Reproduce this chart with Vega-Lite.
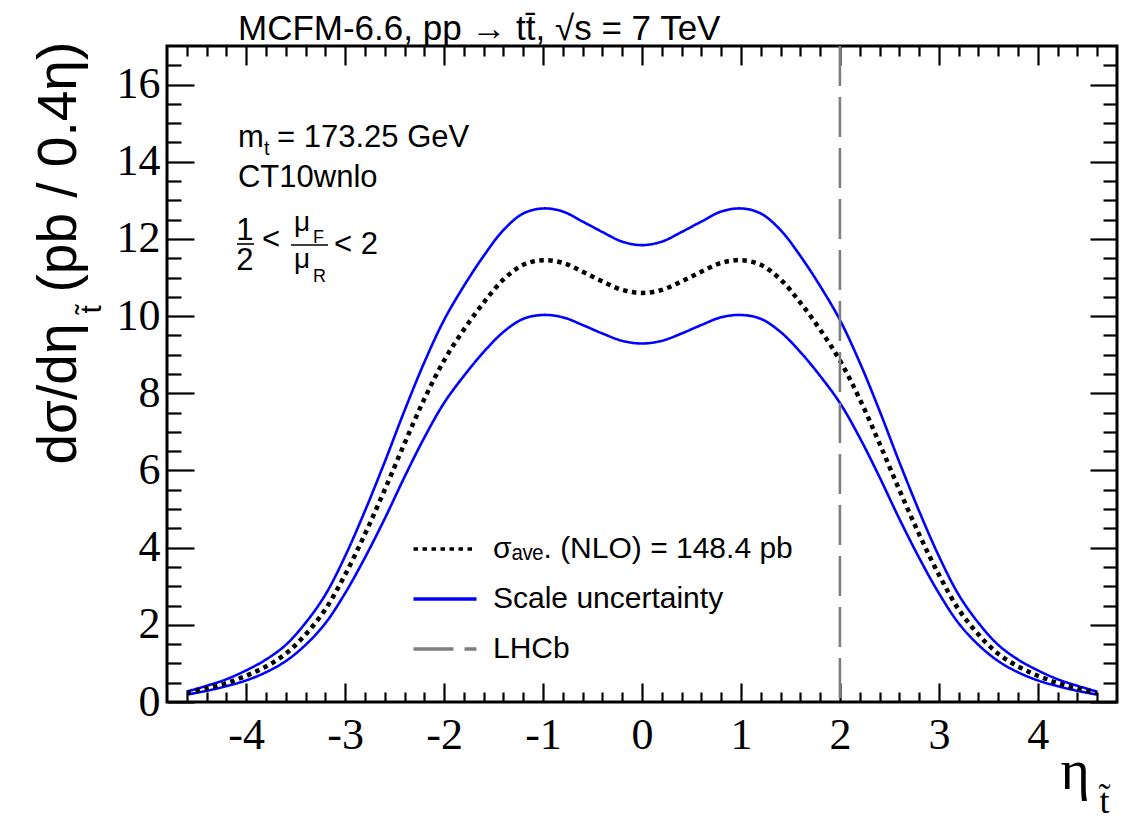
{
  "$schema": "https://vega.github.io/schema/vega-lite/v6.json",
  "width": 950,
  "height": 656,
  "autosize": {"type": "none"},
  "padding": {"left": 167, "top": 46, "right": 29, "bottom": 120},
  "background": "white",
  "title": {
    "text": "MCFM-6.6, pp \u2192 tt\u0304, \u221as = 7 TeV",
    "anchor": "start",
    "frame": "group",
    "dx": 71,
    "offset": -34,
    "baseline": "alphabetic",
    "font": "Liberation Sans",
    "fontSize": 35,
    "fontWeight": "normal",
    "color": "black"
  },
  "datasets": {
    "central": [
      {"eta": -4.6, "value": 0.23, "series": "nlo"},
      {"eta": -4.4, "value": 0.35, "series": "nlo"},
      {"eta": -4.2, "value": 0.49, "series": "nlo"},
      {"eta": -4.0, "value": 0.68, "series": "nlo"},
      {"eta": -3.8, "value": 0.92, "series": "nlo"},
      {"eta": -3.6, "value": 1.25, "series": "nlo"},
      {"eta": -3.4, "value": 1.75, "series": "nlo"},
      {"eta": -3.2, "value": 2.4, "series": "nlo"},
      {"eta": -3.0, "value": 3.3, "series": "nlo"},
      {"eta": -2.8, "value": 4.35, "series": "nlo"},
      {"eta": -2.6, "value": 5.5, "series": "nlo"},
      {"eta": -2.4, "value": 6.7, "series": "nlo"},
      {"eta": -2.2, "value": 7.85, "series": "nlo"},
      {"eta": -2.0, "value": 8.85, "series": "nlo"},
      {"eta": -1.8, "value": 9.65, "series": "nlo"},
      {"eta": -1.6, "value": 10.35, "series": "nlo"},
      {"eta": -1.4, "value": 10.95, "series": "nlo"},
      {"eta": -1.2, "value": 11.33, "series": "nlo"},
      {"eta": -1.0, "value": 11.45, "series": "nlo"},
      {"eta": -0.8, "value": 11.38, "series": "nlo"},
      {"eta": -0.6, "value": 11.15, "series": "nlo"},
      {"eta": -0.4, "value": 10.9, "series": "nlo"},
      {"eta": -0.2, "value": 10.68, "series": "nlo"},
      {"eta": 0.0, "value": 10.6, "series": "nlo"},
      {"eta": 0.2, "value": 10.68, "series": "nlo"},
      {"eta": 0.4, "value": 10.9, "series": "nlo"},
      {"eta": 0.6, "value": 11.15, "series": "nlo"},
      {"eta": 0.8, "value": 11.38, "series": "nlo"},
      {"eta": 1.0, "value": 11.45, "series": "nlo"},
      {"eta": 1.2, "value": 11.33, "series": "nlo"},
      {"eta": 1.4, "value": 10.95, "series": "nlo"},
      {"eta": 1.6, "value": 10.35, "series": "nlo"},
      {"eta": 1.8, "value": 9.65, "series": "nlo"},
      {"eta": 2.0, "value": 8.85, "series": "nlo"},
      {"eta": 2.2, "value": 7.85, "series": "nlo"},
      {"eta": 2.4, "value": 6.7, "series": "nlo"},
      {"eta": 2.6, "value": 5.5, "series": "nlo"},
      {"eta": 2.8, "value": 4.35, "series": "nlo"},
      {"eta": 3.0, "value": 3.3, "series": "nlo"},
      {"eta": 3.2, "value": 2.4, "series": "nlo"},
      {"eta": 3.4, "value": 1.75, "series": "nlo"},
      {"eta": 3.6, "value": 1.25, "series": "nlo"},
      {"eta": 3.8, "value": 0.92, "series": "nlo"},
      {"eta": 4.0, "value": 0.68, "series": "nlo"},
      {"eta": 4.2, "value": 0.49, "series": "nlo"},
      {"eta": 4.4, "value": 0.35, "series": "nlo"},
      {"eta": 4.6, "value": 0.23, "series": "nlo"}
    ],
    "band": [
      {"eta": -4.6, "value": 0.27, "curve": "upper", "series": "scale"},
      {"eta": -4.4, "value": 0.42, "curve": "upper", "series": "scale"},
      {"eta": -4.2, "value": 0.59, "curve": "upper", "series": "scale"},
      {"eta": -4.0, "value": 0.82, "curve": "upper", "series": "scale"},
      {"eta": -3.8, "value": 1.1, "curve": "upper", "series": "scale"},
      {"eta": -3.6, "value": 1.48, "curve": "upper", "series": "scale"},
      {"eta": -3.4, "value": 2.05, "curve": "upper", "series": "scale"},
      {"eta": -3.2, "value": 2.78, "curve": "upper", "series": "scale"},
      {"eta": -3.0, "value": 3.78, "curve": "upper", "series": "scale"},
      {"eta": -2.8, "value": 4.95, "curve": "upper", "series": "scale"},
      {"eta": -2.6, "value": 6.22, "curve": "upper", "series": "scale"},
      {"eta": -2.4, "value": 7.55, "curve": "upper", "series": "scale"},
      {"eta": -2.2, "value": 8.8, "curve": "upper", "series": "scale"},
      {"eta": -2.0, "value": 9.9, "curve": "upper", "series": "scale"},
      {"eta": -1.8, "value": 10.78, "curve": "upper", "series": "scale"},
      {"eta": -1.6, "value": 11.56, "curve": "upper", "series": "scale"},
      {"eta": -1.4, "value": 12.23, "curve": "upper", "series": "scale"},
      {"eta": -1.2, "value": 12.66, "curve": "upper", "series": "scale"},
      {"eta": -1.0, "value": 12.79, "curve": "upper", "series": "scale"},
      {"eta": -0.8, "value": 12.71, "curve": "upper", "series": "scale"},
      {"eta": -0.6, "value": 12.45, "curve": "upper", "series": "scale"},
      {"eta": -0.4, "value": 12.18, "curve": "upper", "series": "scale"},
      {"eta": -0.2, "value": 11.93, "curve": "upper", "series": "scale"},
      {"eta": 0.0, "value": 11.84, "curve": "upper", "series": "scale"},
      {"eta": 0.2, "value": 11.93, "curve": "upper", "series": "scale"},
      {"eta": 0.4, "value": 12.18, "curve": "upper", "series": "scale"},
      {"eta": 0.6, "value": 12.45, "curve": "upper", "series": "scale"},
      {"eta": 0.8, "value": 12.71, "curve": "upper", "series": "scale"},
      {"eta": 1.0, "value": 12.79, "curve": "upper", "series": "scale"},
      {"eta": 1.2, "value": 12.66, "curve": "upper", "series": "scale"},
      {"eta": 1.4, "value": 12.23, "curve": "upper", "series": "scale"},
      {"eta": 1.6, "value": 11.56, "curve": "upper", "series": "scale"},
      {"eta": 1.8, "value": 10.78, "curve": "upper", "series": "scale"},
      {"eta": 2.0, "value": 9.9, "curve": "upper", "series": "scale"},
      {"eta": 2.2, "value": 8.8, "curve": "upper", "series": "scale"},
      {"eta": 2.4, "value": 7.55, "curve": "upper", "series": "scale"},
      {"eta": 2.6, "value": 6.22, "curve": "upper", "series": "scale"},
      {"eta": 2.8, "value": 4.95, "curve": "upper", "series": "scale"},
      {"eta": 3.0, "value": 3.78, "curve": "upper", "series": "scale"},
      {"eta": 3.2, "value": 2.78, "curve": "upper", "series": "scale"},
      {"eta": 3.4, "value": 2.05, "curve": "upper", "series": "scale"},
      {"eta": 3.6, "value": 1.48, "curve": "upper", "series": "scale"},
      {"eta": 3.8, "value": 1.1, "curve": "upper", "series": "scale"},
      {"eta": 4.0, "value": 0.82, "curve": "upper", "series": "scale"},
      {"eta": 4.2, "value": 0.59, "curve": "upper", "series": "scale"},
      {"eta": 4.4, "value": 0.42, "curve": "upper", "series": "scale"},
      {"eta": 4.6, "value": 0.27, "curve": "upper", "series": "scale"},
      {"eta": -4.6, "value": 0.19, "curve": "lower", "series": "scale"},
      {"eta": -4.4, "value": 0.29, "curve": "lower", "series": "scale"},
      {"eta": -4.2, "value": 0.41, "curve": "lower", "series": "scale"},
      {"eta": -4.0, "value": 0.56, "curve": "lower", "series": "scale"},
      {"eta": -3.8, "value": 0.77, "curve": "lower", "series": "scale"},
      {"eta": -3.6, "value": 1.06, "curve": "lower", "series": "scale"},
      {"eta": -3.4, "value": 1.48, "curve": "lower", "series": "scale"},
      {"eta": -3.2, "value": 2.04, "curve": "lower", "series": "scale"},
      {"eta": -3.0, "value": 2.82, "curve": "lower", "series": "scale"},
      {"eta": -2.8, "value": 3.74, "curve": "lower", "series": "scale"},
      {"eta": -2.6, "value": 4.75, "curve": "lower", "series": "scale"},
      {"eta": -2.4, "value": 5.83, "curve": "lower", "series": "scale"},
      {"eta": -2.2, "value": 6.85, "curve": "lower", "series": "scale"},
      {"eta": -2.0, "value": 7.75, "curve": "lower", "series": "scale"},
      {"eta": -1.8, "value": 8.45, "curve": "lower", "series": "scale"},
      {"eta": -1.6, "value": 9.07, "curve": "lower", "series": "scale"},
      {"eta": -1.4, "value": 9.59, "curve": "lower", "series": "scale"},
      {"eta": -1.2, "value": 9.93, "curve": "lower", "series": "scale"},
      {"eta": -1.0, "value": 10.03, "curve": "lower", "series": "scale"},
      {"eta": -0.8, "value": 9.97, "curve": "lower", "series": "scale"},
      {"eta": -0.6, "value": 9.77, "curve": "lower", "series": "scale"},
      {"eta": -0.4, "value": 9.55, "curve": "lower", "series": "scale"},
      {"eta": -0.2, "value": 9.36, "curve": "lower", "series": "scale"},
      {"eta": 0.0, "value": 9.29, "curve": "lower", "series": "scale"},
      {"eta": 0.2, "value": 9.36, "curve": "lower", "series": "scale"},
      {"eta": 0.4, "value": 9.55, "curve": "lower", "series": "scale"},
      {"eta": 0.6, "value": 9.77, "curve": "lower", "series": "scale"},
      {"eta": 0.8, "value": 9.97, "curve": "lower", "series": "scale"},
      {"eta": 1.0, "value": 10.03, "curve": "lower", "series": "scale"},
      {"eta": 1.2, "value": 9.93, "curve": "lower", "series": "scale"},
      {"eta": 1.4, "value": 9.59, "curve": "lower", "series": "scale"},
      {"eta": 1.6, "value": 9.07, "curve": "lower", "series": "scale"},
      {"eta": 1.8, "value": 8.45, "curve": "lower", "series": "scale"},
      {"eta": 2.0, "value": 7.75, "curve": "lower", "series": "scale"},
      {"eta": 2.2, "value": 6.85, "curve": "lower", "series": "scale"},
      {"eta": 2.4, "value": 5.83, "curve": "lower", "series": "scale"},
      {"eta": 2.6, "value": 4.75, "curve": "lower", "series": "scale"},
      {"eta": 2.8, "value": 3.74, "curve": "lower", "series": "scale"},
      {"eta": 3.0, "value": 2.82, "curve": "lower", "series": "scale"},
      {"eta": 3.2, "value": 2.04, "curve": "lower", "series": "scale"},
      {"eta": 3.4, "value": 1.48, "curve": "lower", "series": "scale"},
      {"eta": 3.6, "value": 1.06, "curve": "lower", "series": "scale"},
      {"eta": 3.8, "value": 0.77, "curve": "lower", "series": "scale"},
      {"eta": 4.0, "value": 0.56, "curve": "lower", "series": "scale"},
      {"eta": 4.2, "value": 0.41, "curve": "lower", "series": "scale"},
      {"eta": 4.4, "value": 0.29, "curve": "lower", "series": "scale"},
      {"eta": 4.6, "value": 0.19, "curve": "lower", "series": "scale"}
    ],
    "lhcb": [{"eta": 2, "series": "lhcb"}]
  },
  "config": {
    "view": {"stroke": "black", "strokeWidth": 3},
    "axis": {
      "domain": false,
      "grid": false,
      "tickColor": "black",
      "tickWidth": 2.2,
      "labelColor": "black",
      "titleColor": "black",
      "titleFontWeight": "normal",
      "labelFlush": false,
      "labelOverlap": false,
      "labelBound": false
    }
  },
  "resolve": {"axis": {"x": "independent", "y": "independent"}},
  "layer": [
    {
      "data": {"name": "band"},
      "mark": {"type": "line", "interpolate": "catmull-rom", "strokeWidth": 2.6},
      "encoding": {
        "x": {
          "field": "eta", "type": "quantitative",
          "scale": {"domain": [-4.8, 4.8], "nice": false, "zero": false},
          "axis": {
            "orient": "bottom",
            "values": [-4, -3, -2, -1, 0, 1, 2, 3, 4],
            "tickSize": -19,
            "labelFont": "Liberation Serif",
            "labelFontSize": 44,
            "labelPadding": 30,
            "labelExpr": "datum.value < 0 ? '-' + abs(datum.value) : '' + datum.value",
            "title": "\u03b7",
            "titleFont": "Liberation Serif",
            "titleFontSize": 56,
            "titleAlign": "left",
            "titleBaseline": "alphabetic",
            "titleAngle": 0,
            "titleX": 893,
            "titleY": 86
          }
        },
        "y": {
          "field": "value", "type": "quantitative",
          "scale": {"domain": [0, 17], "nice": false, "zero": false},
          "axis": {
            "orient": "left",
            "values": [0, 2, 4, 6, 8, 10, 12, 14, 16],
            "tickSize": -27,
            "labelFont": "Liberation Serif",
            "labelFontSize": 44,
            "labelPadding": 34,
            "title": "d\u03c3/d\u03b7",
            "titleFont": "Liberation Sans",
            "titleFontSize": 55,
            "titleAngle": 270,
            "titleAlign": "left",
            "titleBaseline": "alphabetic",
            "titleX": -92,
            "titleY": 418
          }
        },
        "detail": {"field": "curve"},
        "color": {
          "field": "series", "type": "nominal",
          "scale": {"domain": ["nlo", "scale", "lhcb"], "range": ["#000000", "#0000ff", "#7f7f7f"]},
          "legend": {
            "title": null,
            "orient": "none",
            "legendX": 263,
            "legendY": 488,
            "symbolType": "M-3,0H3",
            "symbolSize": 441,
            "symbolFillColor": "transparent",
            "symbolStrokeWidth": 3.5,
            "labelOffset": 33,
            "labelFont": "Liberation Sans",
            "labelFontSize": 30,
            "labelColor": "black",
            "labelLimit": 0,
            "rowPadding": 20,
            "labelExpr": "datum.label == 'nlo' ? '\u03c3\u2090\u1d65\u2091. (NLO) = 148.4 pb' : datum.label == 'scale' ? 'Scale uncertainty' : 'LHCb'"
          }
        },
        "strokeDash": {
          "field": "series", "type": "nominal",
          "scale": {"domain": ["nlo", "scale", "lhcb"], "range": [[4.5, 4.5], [1, 0], [40, 11]]},
          "legend": {"title": null}
        }
      }
    },
    {
      "data": {"name": "central"},
      "mark": {"type": "line", "interpolate": "catmull-rom", "strokeWidth": 4.5},
      "encoding": {
        "x": {
          "field": "eta", "type": "quantitative",
          "axis": {
            "orient": "bottom",
            "values": [-4.6, -4.4, -4.2, -3.8, -3.6, -3.4, -3.2, -2.8, -2.6, -2.4, -2.2, -1.8, -1.6, -1.4, -1.2, -0.8, -0.6, -0.4, -0.2, 0.2, 0.4, 0.6, 0.8, 1.2, 1.4, 1.6, 1.8, 2.2, 2.4, 2.6, 2.8, 3.2, 3.4, 3.6, 3.8, 4.2, 4.4, 4.6],
            "tickSize": -10,
            "labels": false,
            "title": "t\u0303",
            "titleFont": "Liberation Serif",
            "titleFontSize": 36,
            "titleAlign": "left",
            "titleBaseline": "alphabetic",
            "titleAngle": 0,
            "titleX": 932,
            "titleY": 110
          }
        },
        "y": {
          "field": "value", "type": "quantitative",
          "axis": {
            "orient": "left",
            "values": [0.5, 1, 1.5, 2.5, 3, 3.5, 4.5, 5, 5.5, 6.5, 7, 7.5, 8.5, 9, 9.5, 10.5, 11, 11.5, 12.5, 13, 13.5, 14.5, 15, 15.5, 16.5],
            "tickSize": -14,
            "labels": false,
            "title": "t\u0303",
            "titleFont": "Liberation Sans",
            "titleFontSize": 30,
            "titleAngle": 270,
            "titleAlign": "left",
            "titleBaseline": "alphabetic",
            "titleX": -67,
            "titleY": 267
          }
        },
        "color": {"field": "series", "type": "nominal", "legend": null},
        "strokeDash": {"field": "series", "type": "nominal", "legend": null}
      }
    },
    {
      "data": {"name": "central"},
      "mark": {"type": "point", "opacity": 0},
      "encoding": {
        "x": {
          "field": "eta", "type": "quantitative",
          "axis": {"orient": "top", "values": [-4, -3, -2, -1, 0, 1, 2, 3, 4], "tickSize": -19, "labels": false, "title": null}
        },
        "y": {
          "field": "value", "type": "quantitative",
          "axis": {
            "orient": "right",
            "values": [0, 2, 4, 6, 8, 10, 12, 14, 16],
            "tickSize": -27,
            "labels": false,
            "title": "(pb / 0.4\u03b7)",
            "titleFont": "Liberation Sans",
            "titleFontSize": 55,
            "titleAngle": 270,
            "titleAlign": "left",
            "titleBaseline": "alphabetic",
            "titleX": -1042,
            "titleY": 246
          }
        }
      }
    },
    {
      "data": {"name": "central"},
      "mark": {"type": "point", "opacity": 0},
      "encoding": {
        "x": {
          "field": "eta", "type": "quantitative",
          "axis": {
            "orient": "top",
            "values": [-4.6, -4.4, -4.2, -3.8, -3.6, -3.4, -3.2, -2.8, -2.6, -2.4, -2.2, -1.8, -1.6, -1.4, -1.2, -0.8, -0.6, -0.4, -0.2, 0.2, 0.4, 0.6, 0.8, 1.2, 1.4, 1.6, 1.8, 2.2, 2.4, 2.6, 2.8, 3.2, 3.4, 3.6, 3.8, 4.2, 4.4, 4.6],
            "tickSize": -10, "labels": false, "title": null
          }
        },
        "y": {
          "field": "value", "type": "quantitative",
          "axis": {
            "orient": "right",
            "values": [0.5, 1, 1.5, 2.5, 3, 3.5, 4.5, 5, 5.5, 6.5, 7, 7.5, 8.5, 9, 9.5, 10.5, 11, 11.5, 12.5, 13, 13.5, 14.5, 15, 15.5, 16.5],
            "tickSize": -14, "labels": false, "title": null
          }
        }
      }
    },
    {
      "data": {"name": "lhcb"},
      "mark": {"type": "rule", "strokeWidth": 2.6},
      "encoding": {
        "x": {"field": "eta", "type": "quantitative", "axis": null},
        "color": {"field": "series", "type": "nominal", "legend": null},
        "strokeDash": {"field": "series", "type": "nominal", "legend": null}
      }
    },
    {
      "data": {"values": [{"label": "m"}]},
      "mark": {"type": "text", "align": "left", "baseline": "alphabetic", "font": "Liberation Sans", "fontSize": 31, "color": "black"},
      "encoding": {"x": {"datum": -4.083, "type": "quantitative", "axis": null}, "y": {"datum": 14.383, "type": "quantitative", "axis": null}, "text": {"field": "label"}}
    },
    {
      "data": {"values": [{"label": "t"}]},
      "mark": {"type": "text", "align": "left", "baseline": "alphabetic", "font": "Liberation Sans", "fontSize": 20, "color": "black"},
      "encoding": {"x": {"datum": -3.82, "type": "quantitative", "axis": null}, "y": {"datum": 14.175, "type": "quantitative", "axis": null}, "text": {"field": "label"}}
    },
    {
      "data": {"values": [{"label": "= 173.25 GeV"}]},
      "mark": {"type": "text", "align": "left", "baseline": "alphabetic", "font": "Liberation Sans", "fontSize": 31, "color": "black"},
      "encoding": {"x": {"datum": -3.688, "type": "quantitative", "axis": null}, "y": {"datum": 14.383, "type": "quantitative", "axis": null}, "text": {"field": "label"}}
    },
    {
      "data": {"values": [{"label": "CT10wnlo"}]},
      "mark": {"type": "text", "align": "left", "baseline": "alphabetic", "font": "Liberation Sans", "fontSize": 31, "color": "black"},
      "encoding": {"x": {"datum": -4.083, "type": "quantitative", "axis": null}, "y": {"datum": 13.346, "type": "quantitative", "axis": null}, "text": {"field": "label"}}
    },
    {
      "data": {"values": [{"label": "1"}]},
      "mark": {"type": "text", "align": "center", "baseline": "alphabetic", "font": "Liberation Sans", "fontSize": 31, "color": "black"},
      "encoding": {"x": {"datum": -4.012, "type": "quantitative", "axis": null}, "y": {"datum": 11.973, "type": "quantitative", "axis": null}, "text": {"field": "label"}}
    },
    {
      "data": {"values": [{"label": "2"}]},
      "mark": {"type": "text", "align": "center", "baseline": "alphabetic", "font": "Liberation Sans", "fontSize": 31, "color": "black"},
      "encoding": {"x": {"datum": -4.012, "type": "quantitative", "axis": null}, "y": {"datum": 11.195, "type": "quantitative", "axis": null}, "text": {"field": "label"}}
    },
    {
      "data": {"values": [{"label": "<"}]},
      "mark": {"type": "text", "align": "left", "baseline": "alphabetic", "font": "Liberation Sans", "fontSize": 31, "color": "black"},
      "encoding": {"x": {"datum": -3.84, "type": "quantitative", "axis": null}, "y": {"datum": 11.74, "type": "quantitative", "axis": null}, "text": {"field": "label"}}
    },
    {
      "data": {"values": [{"label": "\u03bc"}]},
      "mark": {"type": "text", "align": "left", "baseline": "alphabetic", "font": "Liberation Sans", "fontSize": 28, "color": "black"},
      "encoding": {"x": {"datum": -3.517, "type": "quantitative", "axis": null}, "y": {"datum": 12.206, "type": "quantitative", "axis": null}, "text": {"field": "label"}}
    },
    {
      "data": {"values": [{"label": "F"}]},
      "mark": {"type": "text", "align": "left", "baseline": "alphabetic", "font": "Liberation Sans", "fontSize": 18, "color": "black"},
      "encoding": {"x": {"datum": -3.325, "type": "quantitative", "axis": null}, "y": {"datum": 11.895, "type": "quantitative", "axis": null}, "text": {"field": "label"}}
    },
    {
      "data": {"values": [{"label": "\u03bc"}]},
      "mark": {"type": "text", "align": "left", "baseline": "alphabetic", "font": "Liberation Sans", "fontSize": 28, "color": "black"},
      "encoding": {"x": {"datum": -3.517, "type": "quantitative", "axis": null}, "y": {"datum": 11.247, "type": "quantitative", "axis": null}, "text": {"field": "label"}}
    },
    {
      "data": {"values": [{"label": "R"}]},
      "mark": {"type": "text", "align": "left", "baseline": "alphabetic", "font": "Liberation Sans", "fontSize": 18, "color": "black"},
      "encoding": {"x": {"datum": -3.325, "type": "quantitative", "axis": null}, "y": {"datum": 10.884, "type": "quantitative", "axis": null}, "text": {"field": "label"}}
    },
    {
      "data": {"values": [{"label": "< 2"}]},
      "mark": {"type": "text", "align": "left", "baseline": "alphabetic", "font": "Liberation Sans", "fontSize": 31, "color": "black"},
      "encoding": {"x": {"datum": -3.112, "type": "quantitative", "axis": null}, "y": {"datum": 11.61, "type": "quantitative", "axis": null}, "text": {"field": "label"}}
    },
    {
      "data": {"values": [{"part": "fraction 1/2"}]},
      "mark": {"type": "rule", "color": "black", "strokeWidth": 1.6},
      "encoding": {"x": {"datum": -4.093, "type": "quantitative", "axis": null}, "x2": {"datum": -3.921}, "y": {"datum": 11.869, "type": "quantitative", "axis": null}}
    },
    {
      "data": {"values": [{"part": "fraction muF/muR"}]},
      "mark": {"type": "rule", "color": "black", "strokeWidth": 1.6},
      "encoding": {"x": {"datum": -3.547, "type": "quantitative", "axis": null}, "x2": {"datum": -3.173}, "y": {"datum": 11.843, "type": "quantitative", "axis": null}}
    }
  ]
}
